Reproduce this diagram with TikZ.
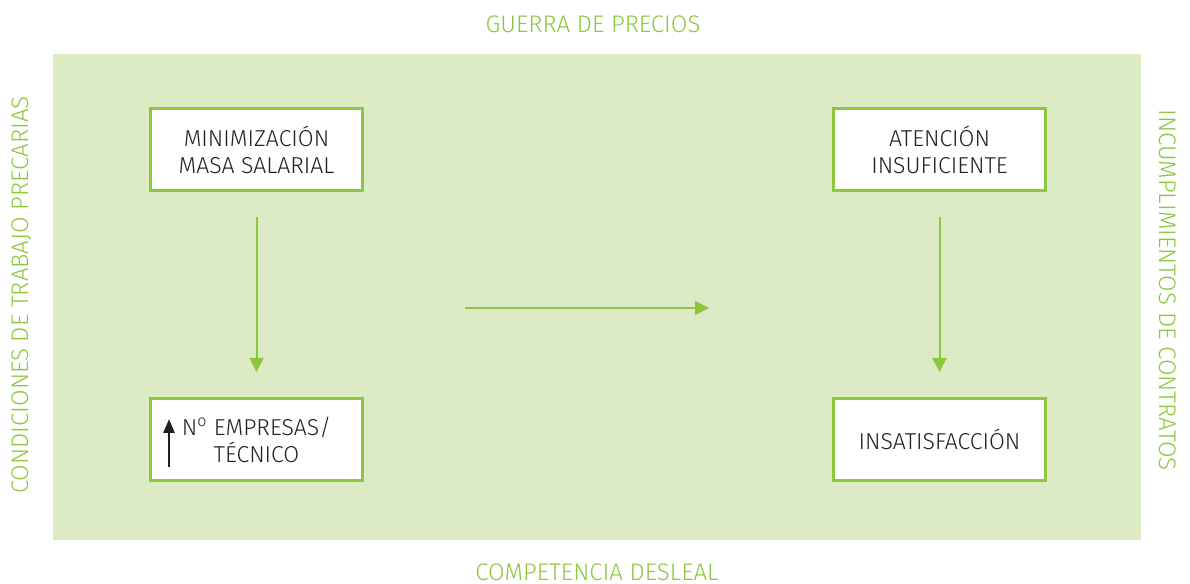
\documentclass[tikz,border=0pt]{standalone}
\usepackage{fontspec}
\setmainfont{Fira Sans Light}
\usetikzlibrary{arrows.meta, positioning}

\definecolor{panelgreen}{HTML}{DDEBC5}
\definecolor{linegreen}{HTML}{8DC63F}
\definecolor{textdark}{HTML}{231F20}

\tikzset{
	cajabox/.style = {draw = linegreen, line width = 1.5pt, fill = white, text = textdark, minimum width = 106pt, minimum height = 41pt, align = center, inner sep = 0pt, font = \fontsize{11.5}{13.5}\selectfont},
	flecha/.style = {draw = linegreen, line width = 1pt, -{Triangle[length = 7pt, width = 7pt]}},
	marco/.style = {text = linegreen, font = \fontsize{12}{14}\selectfont}
}

\begin{document}
\begin{tikzpicture}[x = 0.5pt, y = 0.5pt]
	\useasboundingbox (0, 0) rectangle (1190, 584);

	% panel verde
	\fill[panelgreen] (53, 44) rectangle (1141, 530);

	\node[marco] (guerra) at (593, 560) {GUERRA DE PRECIOS};
	\node[marco] (competencia) at (597, 12) {COMPETENCIA DESLEAL};
	\node[marco, rotate = 90] (condiciones) at (22, 289) {CONDICIONES DE TRABAJO PRECARIAS};
	\node[marco, rotate = -90] (incumplimientos) at (1168, 294) {INCUMPLIMIENTOS DE CONTRATOS};

	% cajas
	\node[cajabox] (minimizacion) at (256.5, 434.5) {MINIMIZACIÓN\\MASA SALARIAL};
	\node[cajabox] (empresas) at (256.5, 144.5) {N\textsuperscript{o} EMPRESAS/\\TÉCNICO};
	\node[cajabox] (atencion) at (939.5, 434.5) {ATENCIÓN\\INSUFICIENTE};
	\node[cajabox] (insatisfaccion) at (939.5, 144.5) {INSATISFACCIÓN};

	\draw[textdark, line width = 1.3pt, -{Triangle[length = 7pt, width = 5.5pt]}] ([xshift = 10pt]empresas.west |- 0, 117) -- ([xshift = 10pt]empresas.west |- 0, 165);

	% flechas
	\draw[flecha, shorten < = 12.5pt, shorten > = 12.5pt] (minimizacion) -- (empresas);
	\draw[flecha, shorten < = 12.5pt, shorten > = 12.5pt] (atencion) -- (insatisfaccion);
	\coordinate (desde) at (465, 276);
	\coordinate (hasta) at (709, 276);
	\draw[flecha] (desde) -- (hasta);
\end{tikzpicture}
\end{document}
